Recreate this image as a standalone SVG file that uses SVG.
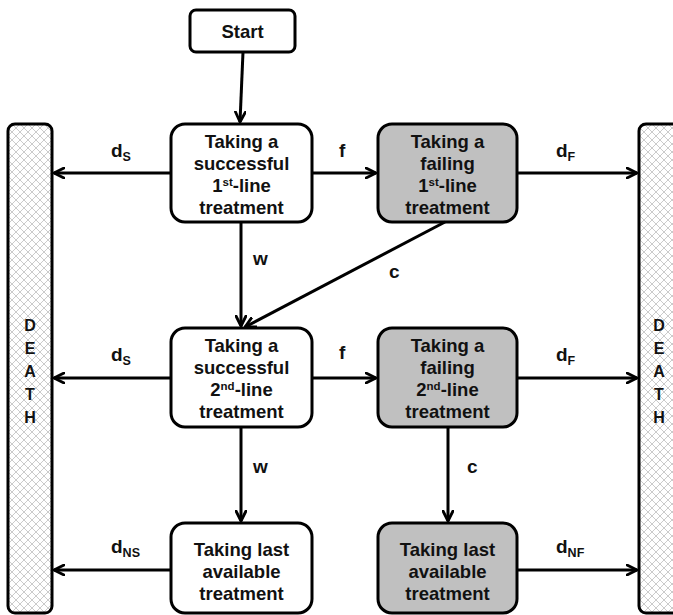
<svg xmlns="http://www.w3.org/2000/svg" width="673" height="615" viewBox="0 0 673 615">
<defs>
<pattern id="hatch" width="8" height="8" patternUnits="userSpaceOnUse">
<rect width="8" height="8" fill="#ffffff"/>
<path d="M0,0 L8,8 M8,0 L0,8" stroke="#b4b4b4" stroke-width="0.7"/>
</pattern>
<marker id="arr" viewBox="0 0 12 12" refX="11" refY="6" markerWidth="12" markerHeight="12" markerUnits="userSpaceOnUse" orient="auto">
<path d="M1,1 L11,6 L1,11" fill="none" stroke="#000" stroke-width="2.8" stroke-linecap="round" stroke-linejoin="round"/>
</marker>
</defs>
<style>
.box{fill:#fff;stroke:#000;stroke-width:3}
.fail{fill:#c0c0c0;stroke:#000;stroke-width:3}
.bar{fill:url(#hatch);stroke:#000;stroke-width:3}
.t{font-family:"Liberation Sans",Arial,sans-serif;font-weight:bold;font-size:18.5px;fill:#111;text-anchor:middle}
.l{font-family:"Liberation Sans",Arial,sans-serif;font-weight:bold;font-size:19px;fill:#111}
.sub{font-size:12.5px}
.sup{font-size:11.5px}
.dl{font-family:"Liberation Sans",Arial,sans-serif;font-weight:bold;font-size:16px;fill:#111;text-anchor:middle}
.c{fill:none;stroke:#000;stroke-width:3;marker-end:url(#arr)}
</style>
<g id="death-left">
<rect class="bar" x="8" y="124" width="44" height="489" rx="7"/>
<text class="dl" x="30" y="331">D</text>
<text class="dl" x="30" y="354">E</text>
<text class="dl" x="30" y="377">A</text>
<text class="dl" x="30" y="400">T</text>
<text class="dl" x="30" y="423">H</text>
</g>
<g id="death-right">
<rect class="bar" x="639" y="124" width="50" height="489" rx="7"/>
<text class="dl" x="659" y="331">D</text>
<text class="dl" x="659" y="354">E</text>
<text class="dl" x="659" y="377">A</text>
<text class="dl" x="659" y="400">T</text>
<text class="dl" x="659" y="423">H</text>
</g>
<g id="start">
<rect class="box" x="190" y="10" width="105" height="42" rx="6"/>
<text class="t" x="242.5" y="38">Start</text>
</g>
<g id="succ1">
<rect class="box" x="171" y="124" width="141" height="98" rx="14"/>
<text class="t" x="241.5" y="148">Taking a</text>
<text class="t" x="241.5" y="170">successful</text>
<text class="t" x="241.5" y="192">1<tspan class="sup" dy="-6">st</tspan><tspan dy="6">-line</tspan></text>
<text class="t" x="241.5" y="214">treatment</text>
</g>
<g id="fail1">
<rect class="fail" x="378" y="124" width="139" height="98" rx="14"/>
<text class="t" x="447.5" y="148">Taking a</text>
<text class="t" x="447.5" y="170">failing</text>
<text class="t" x="447.5" y="192">1<tspan class="sup" dy="-6">st</tspan><tspan dy="6">-line</tspan></text>
<text class="t" x="447.5" y="214">treatment</text>
</g>
<g id="succ2">
<rect class="box" x="171" y="328" width="141" height="99" rx="14"/>
<text class="t" x="241.5" y="352">Taking a</text>
<text class="t" x="241.5" y="374">successful</text>
<text class="t" x="241.5" y="396">2<tspan class="sup" dy="-6">nd</tspan><tspan dy="6">-line</tspan></text>
<text class="t" x="241.5" y="418">treatment</text>
</g>
<g id="fail2">
<rect class="fail" x="378" y="328" width="139" height="99" rx="14"/>
<text class="t" x="447.5" y="352">Taking a</text>
<text class="t" x="447.5" y="374">failing</text>
<text class="t" x="447.5" y="396">2<tspan class="sup" dy="-6">nd</tspan><tspan dy="6">-line</tspan></text>
<text class="t" x="447.5" y="418">treatment</text>
</g>
<g id="last-s">
<rect class="box" x="171" y="523" width="141" height="90" rx="14"/>
<text class="t" x="241.5" y="556">Taking last</text>
<text class="t" x="241.5" y="578">available</text>
<text class="t" x="241.5" y="600">treatment</text>
</g>
<g id="last-f">
<rect class="fail" x="378" y="523" width="139" height="90" rx="14"/>
<text class="t" x="447.5" y="556">Taking last</text>
<text class="t" x="447.5" y="578">available</text>
<text class="t" x="447.5" y="600">treatment</text>
</g>
<g id="connectors">
<path class="c" d="M243,52 L240,122"/>
<path class="c" d="M171,173 L54,173"/>
<path class="c" d="M312,173 L376,173"/>
<path class="c" d="M517,173 L637,173"/>
<path class="c" d="M241,222 L241,326"/>
<path class="c" d="M445,222 L245,327"/>
<path class="c" d="M171,378 L54,378"/>
<path class="c" d="M312,378 L376,378"/>
<path class="c" d="M517,378 L637,378"/>
<path class="c" d="M241,427 L241,521"/>
<path class="c" d="M448,427 L448,521"/>
<path class="c" d="M171,570 L54,570"/>
<path class="c" d="M517,570 L637,570"/>
</g>
<g id="labels">
<text class="l" x="111" y="157">d<tspan class="sub" dy="4">S</tspan></text>
<text class="l" x="339" y="157">f</text>
<text class="l" x="556" y="157">d<tspan class="sub" dy="4">F</tspan></text>
<text class="l" x="253" y="265">w</text>
<text class="l" x="389" y="278">c</text>
<text class="l" x="111" y="361">d<tspan class="sub" dy="4">S</tspan></text>
<text class="l" x="339" y="359">f</text>
<text class="l" x="556" y="361">d<tspan class="sub" dy="4">F</tspan></text>
<text class="l" x="253" y="473">w</text>
<text class="l" x="467" y="473">c</text>
<text class="l" x="111" y="553">d<tspan class="sub" dy="4">NS</tspan></text>
<text class="l" x="556" y="553">d<tspan class="sub" dy="4">NF</tspan></text>
</g>
</svg>
